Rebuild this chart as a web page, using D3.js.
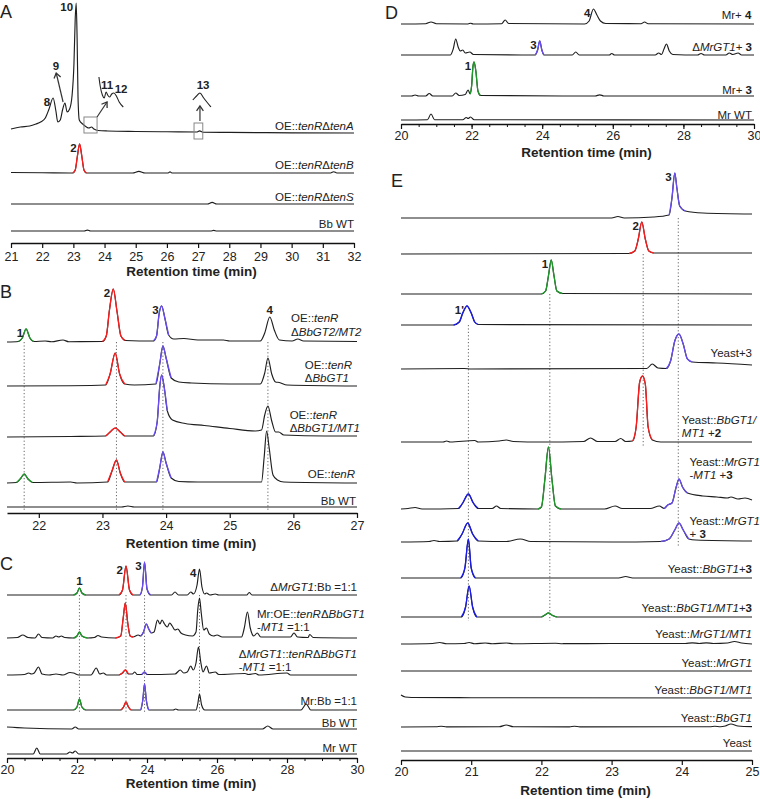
<!DOCTYPE html>
<html><head><meta charset="utf-8">
<script src="https://cdn.jsdelivr.net/npm/d3@7"></script>
<style>
body{margin:0;background:#fff}
svg{display:block}
text{font-family:"Liberation Sans",Arial,sans-serif;fill:#222}
</style></head>
<body><svg id="c" width="760" height="799"></svg>
<script>
// ================= DATA (time [min], signal [a.u.]) =================
// ---- Panel A ----
const A_tenA = [[21,4],[21.3,6],[21.6,7],[21.8,9],[21.95,11],[22.1,15],[22.22,24],[22.35,35],[22.44,22],[22.5,11],[22.58,13],[22.66,24],[22.73,30],[22.8,21],[22.88,24],[22.96,38],[23.02,70],[23.06,115],[23.09,130],[23.12,95],[23.15,35],[23.19,13],[23.3,9],[23.42,6],[23.5,5],[23.58,6],[23.66,4],[23.8,2.5],[24.1,2],[25,1.5],[26,1.2],[26.95,1],[27.05,2.2],[27.15,0.8],[28,0.6],[30,0.2],[32,0]];
const A_tenB = [[21,0.5],[22,0.3],[22.98,0],[23.06,3],[23.13,17],[23.2,29],[23.27,17],[23.34,3],[23.42,0],[24.9,0],[25.1,1.6],[25.3,0],[26.04,0],[26.1,1.2],[26.16,0],[31.25,0],[31.35,1.3],[31.45,0],[32,0]];
const A_tenS = [[21,0],[27.3,0],[27.45,1.6],[27.6,0],[32,0]];
const A_BbWT = [[21,0],[23.35,0],[23.45,0.9],[23.55,0],[27.4,0],[27.5,0.6],[27.6,0],[32,0]];
const A_traces = [A_tenA, A_tenB, A_tenS, A_BbWT];
const A_labels = [["OE::<i>tenR</i>Δ<i>tenA</i>"],["OE::<i>tenR</i>Δ<i>tenB</i>"],["OE::<i>tenR</i>Δ<i>tenS</i>"],["Bb WT"]];
const A_colored = [[],[[22.98,23.42,"2"]],[],[]];
const A_peakLabels = [[0,22.35,"8"],[0,23.09,"10"],[1,23.2,"2"]];
const A_inset1112 = [[23.82,56],[23.86,47],[23.93,38],[23.99,35],[24.05,41],[24.1,38],[24.16,36],[24.23,39],[24.3,40],[24.38,37],[24.47,31],[24.6,26]];
const A_inset13 = [[26.83,33],[26.95,37],[27.06,40],[27.18,35],[27.41,26]];
const A_arrows = [[22.67,31,22.45,60],[23.76,16,24.08,31],[27.06,12,27.06,27]];
const A_boxes = [[23.34,23.76,0,16],[26.87,27.15,-6,10]];
const A_notes = [[22.44,67,"9"],[24.08,48,"11"],[24.53,44,"12"],[27.16,48,"13"]];

// ---- Panel B ----
const B_GT2MT2 = [[21.5,0],[21.68,0.5],[21.74,4],[21.8,13],[21.86,4],[21.92,0.5],[22.1,1],[22.2,0.3],[22.38,2],[22.47,0.3],[23.0,0.5],[23.06,6],[23.11,32],[23.17,53],[23.23,30],[23.29,6],[23.36,1.5],[23.8,1],[23.85,6],[23.89,28],[23.93,36],[23.98,24],[24.04,7],[24.12,3],[24.28,3.5],[24.5,2],[24.9,2],[25.0,1],[25.48,1],[25.55,9],[25.63,25],[25.7,12],[25.78,2],[25.98,1],[26.07,3],[26.16,1],[27,0.5]];
const B_GT1 = [[21.5,0],[22.5,0.3],[23.05,1],[23.12,12],[23.2,33],[23.27,12],[23.35,2],[23.5,1],[23.84,2],[23.9,22],[23.95,40],[24.0,28],[24.08,8],[24.2,4],[24.4,3],[25.0,2],[25.48,2],[25.55,13],[25.6,28],[25.66,12],[25.72,4],[25.78,3.5],[25.9,1],[27,0]];
const B_GT1MT1 = [[21.5,0],[22.5,0.5],[23.05,1],[23.12,5],[23.2,9],[23.28,5],[23.35,1],[23.8,1],[23.86,15],[23.9,50],[23.93,62],[23.97,50],[24.02,26],[24.1,17],[24.3,13.5],[24.6,11.5],[25.0,8.5],[25.4,6],[25.5,7],[25.55,22],[25.6,31],[25.66,16],[25.72,5],[25.77,5],[25.85,2],[26.5,1],[27,1]];
const B_tenR = [[21.5,0],[21.65,0.5],[21.72,5],[21.77,9],[21.83,4],[21.9,0.5],[22.5,1],[22.6,0],[23.08,1],[23.15,12],[23.22,23],[23.28,10],[23.35,1],[23.85,1],[23.9,15],[23.95,31],[24.0,20],[24.08,5],[24.2,1.5],[24.5,1],[25.5,1],[25.54,25],[25.58,52],[25.62,35],[25.68,8],[25.75,3],[25.85,1],[27,0]];
const B_BbWT = [[21.5,0],[23.3,0],[23.4,1],[23.5,0],[27,0]];
const B_traces = [B_GT2MT2, B_GT1, B_GT1MT1, B_tenR, B_BbWT];
const B_labels = [["OE::<i>tenR</i>","Δ<i>BbGT2/MT2</i>"],["OE::<i>tenR</i>","Δ<i>BbGT1</i>"],["OE::<i>tenR</i>","Δ<i>BbGT1/MT1</i>"],["OE::<i>tenR</i>"],["Bb WT"]];
const B_colored = [[[21.68,21.92,"1"],[23.0,23.36,"2"],[23.8,24.04,"3"]],[[23.05,23.35,"2"],[23.84,24.08,"3"]],[[23.05,23.35,"2"],[23.8,24.02,"3"]],[[21.65,21.9,"1"],[23.08,23.35,"2"],[23.85,24.08,"3"]],[]];
const B_peakLabels = [[0,21.8,"1"],[0,23.17,"2"],[0,23.93,"3"],[0,25.63,"4"]];
const B_dots = [[21.77,0,4],[23.22,0,4],[23.95,0,4],[25.6,0,4]];

// ---- Panel C ----
const C_GT1Bb = [[20,0],[21.9,0],[22.0,2],[22.07,7],[22.14,2],[22.25,0],[23.2,0],[23.3,5],[23.4,29],[23.5,5],[23.6,0],[23.8,0],[23.87,8],[23.93,33],[24.0,6],[24.1,0],[24.7,0],[24.8,3],[24.9,0],[25.15,0],[25.25,3],[25.33,1],[25.43,10],[25.5,26],[25.57,8],[25.65,1],[25.7,2],[25.8,0],[25.95,1],[26.05,0],[26.85,0],[26.92,2.5],[27.0,0],[30,0]];
const C_MrOE = [[20,0],[20.3,0.5],[20.45,3],[20.6,0.5],[20.8,0],[20.9,4],[21.0,0.5],[21.3,0],[21.4,2],[21.48,1],[21.55,2],[21.65,0.5],[21.9,0],[22.0,2],[22.07,6],[22.14,2],[22.3,0],[22.5,0.5],[22.6,2.5],[22.7,1],[23.1,0],[23.25,2],[23.32,20],[23.38,35],[23.45,15],[23.52,2],[23.6,1],[23.75,3],[23.82,2],[23.9,6],[23.98,14],[24.05,9],[24.12,5],[24.2,6],[24.3,18],[24.37,14],[24.43,18],[24.5,14],[24.58,11],[24.65,15],[24.72,12],[24.8,8],[24.88,9],[24.97,5],[25.1,3],[25.3,2],[25.4,6],[25.45,28],[25.5,40],[25.55,25],[25.62,8],[25.7,10],[25.78,4],[25.9,2],[26.0,3],[26.15,1],[26.7,1],[26.78,10],[26.87,26],[26.95,10],[27.05,2],[27.15,5],[27.25,1],[28.1,1],[28.2,5],[28.3,1],[28.6,0.5],[28.65,3.5],[28.75,0.5],[30,0]];
const C_GT1tenR = [[20,0],[20.5,0.5],[20.62,2],[20.7,1],[20.78,2],[20.9,8],[21.0,1],[21.2,0],[21.4,1],[21.6,0],[21.8,2.5],[21.9,2],[22.05,0],[22.4,0],[22.55,7],[22.65,1],[22.75,2],[22.85,0],[23.2,0],[23.3,2],[23.38,5],[23.47,1],[23.58,1],[23.65,3],[23.72,0.5],[23.85,0.5],[23.93,3],[24.0,0.5],[24.8,1],[24.95,5],[25.05,2],[25.15,3],[25.25,9],[25.32,5],[25.4,12],[25.47,28],[25.54,12],[25.6,3],[25.7,9],[25.78,2],[25.95,3],[26.05,0.5],[26.8,1.5],[26.9,0.5],[27.1,1.5],[27.2,0],[28.0,2],[28.1,0],[30,0]];
const C_MrBb = [[20,0],[21.9,0],[22.0,3],[22.07,11],[22.14,3],[22.25,0],[23.25,0],[23.33,3],[23.4,8],[23.47,3],[23.55,0],[23.82,0],[23.88,10],[23.93,26],[23.98,10],[24.05,0],[24.75,0],[24.82,1],[24.9,0],[25.4,0],[25.45,6],[25.5,16],[25.56,5],[25.65,0],[28.4,0],[28.55,6],[28.68,0],[30,0]];
const C_BbWT = [[20,2],[20.5,1],[21.85,0],[21.95,2],[22.05,0],[27.3,0],[27.45,3],[27.6,0],[30,0]];
const C_MrWT = [[20,0],[20.75,0],[20.85,6],[20.95,0],[21.7,0],[21.8,2],[21.87,1],[21.95,3],[22.05,0],[30,0]];
const C_traces = [C_GT1Bb, C_MrOE, C_GT1tenR, C_MrBb, C_BbWT, C_MrWT];
const C_labels = [["Δ<i>MrGT1</i>:Bb =1:1"],["Mr:OE::<i>tenR</i>Δ<i>BbGT1</i>","-<i>MT1</i> =1:1"],["Δ<i>MrGT1</i>::<i>tenR</i>Δ<i>BbGT1</i>","-<i>MT1</i> =1:1"],["Mr:Bb =1:1"],["Bb  WT"],["Mr  WT"]];
const C_colored = [[[21.9,22.25,"1"],[23.2,23.6,"2"],[23.8,24.1,"3"]],[[21.9,22.3,"1"],[23.1,23.6,"2"],[23.82,24.12,"3"]],[[23.2,23.47,"2"],[23.85,24.0,"3"]],[[21.9,22.25,"1"],[23.25,23.55,"2"],[23.82,24.05,"3"]],[],[]];
const C_peakLabels = [[0,22.07,"1"],[0,23.4,"2"],[0,23.93,"3"],[0,25.5,"4"]];
const C_dots = [[22.07,0,3],[23.4,0,3],[23.93,0,3],[25.5,0,3]];

// ---- Panel D ----
const D_Mr4 = [[20,0],[20.7,0.3],[20.85,2],[21.0,0.3],[21.9,0],[21.97,0.8],[22.05,0],[22.85,0.3],[22.95,4],[23.05,0.5],[25.2,0],[25.33,3],[25.45,15],[25.55,9],[25.65,3],[25.8,0.5],[26.8,0.3],[26.9,2],[27.0,0.3],[30,0]];
const D_GT13 = [[20,0],[21.4,0],[21.48,6],[21.55,16],[21.62,8],[21.68,4],[21.75,5],[21.82,2],[21.95,3],[22.05,0.5],[23.8,0],[23.87,5],[23.93,14],[23.99,5],[24.05,0],[24.85,0],[24.95,3],[25.05,0],[25.9,0],[25.97,1.5],[26.05,0],[27.2,0],[27.3,2],[27.38,0.5],[27.45,6],[27.52,11],[27.6,4],[27.7,0.5],[28.4,0],[28.5,1.5],[28.6,0],[29.2,0],[29.3,2],[29.4,0.5],[29.55,2],[29.65,0],[30,0]];
const D_Mr3 = [[20,0],[20.3,0],[20.4,1],[20.5,0],[20.7,0],[20.8,2.5],[20.9,0],[21.45,0],[21.55,3],[21.65,0.5],[21.82,1.5],[21.9,6],[21.96,2],[22.0,10],[22.04,30],[22.07,34],[22.12,25],[22.18,5],[22.25,0.5],[25.5,0],[25.63,1.2],[25.75,0],[30,0]];
const D_MrWT = [[20,0],[20.75,0.3],[20.85,6],[20.95,0.3],[21.75,0.3],[21.85,2.5],[21.9,1.5],[21.97,3],[22.07,0.3],[30,0]];
const D_traces = [D_Mr4, D_GT13, D_Mr3, D_MrWT];
const D_labels = [["Mr+ <b>4</b>"],["Δ<i>MrGT1</i>+ <b>3</b>"],["Mr+ <b>3</b>"],["Mr  WT"]];
const D_colored = [[],[[23.8,24.05,"3"]],[[21.96,22.25,"1"]],[]];
const D_peakLabels = [[0,25.45,"4"],[1,23.93,"3"],[2,22.07,"1"]];

// ---- Panel E ----
const E_std3 = [[20,0],[23.0,0],[23.09,1.5],[23.18,0],[23.6,1],[23.82,3],[23.86,20],[23.9,45],[23.93,30],[23.97,12],[24.05,7],[24.3,5],[25,4]];
const E_std2 = [[20,0],[23.25,0.5],[23.33,3],[23.38,15],[23.43,32],[23.48,15],[23.53,3],[23.6,1],[25,1]];
const E_std1 = [[20,0],[22.0,0],[22.06,3],[22.1,18],[22.14,34],[22.18,18],[22.22,3],[22.3,0.5],[25,0]];
const E_std1p = [[20,0],[20.75,0],[20.83,3],[20.88,12],[20.94,19],[21.0,12],[21.05,3],[21.1,0.5],[25,0]];
const E_Y3 = [[20,0],[20.9,0.5],[21.0,0],[23.5,0.5],[23.58,5],[23.66,1],[23.78,0.5],[23.84,8],[23.9,28],[23.96,35],[24.02,25],[24.08,10],[24.15,7],[24.5,6],[25,4]];
const E_BbMT2 = [[20,0],[20.6,0],[20.65,1],[20.7,0],[21.05,1.5],[21.1,0],[21.4,1],[21.5,2],[21.6,0.5],[22.0,0],[22.6,0.5],[22.7,4],[22.8,0.5],[23.05,0.5],[23.13,3.5],[23.2,0.5],[23.3,1],[23.35,15],[23.4,60],[23.44,66],[23.48,58],[23.52,15],[23.58,2],[23.7,0],[25,0]];
const E_MrMT3 = [[20,0],[20.1,0.5],[20.2,1.5],[20.3,0],[20.82,0.5],[20.88,6],[20.96,15],[21.03,6],[21.1,0.5],[21.3,0.5],[21.36,3],[21.42,0.5],[21.95,0],[22.0,2],[22.05,30],[22.1,62],[22.15,30],[22.2,3],[22.28,0],[22.9,0],[23.05,3],[23.15,0.5],[23.55,0.5],[23.68,3],[23.75,0.5],[23.8,4],[23.86,6],[23.92,22],[23.96,30],[24.01,22],[24.08,16],[24.3,13],[24.5,12],[24.65,11],[24.7,12],[24.8,10],[24.9,11],[25,9]];
const E_Mr3 = [[20,0],[20.4,0.5],[20.47,1.5],[20.55,0.5],[20.8,1],[20.87,8],[20.95,19],[21.02,8],[21.1,1],[21.5,0.5],[21.7,3],[21.85,0.5],[23.0,0],[23.7,0.5],[23.82,3],[23.9,12],[23.96,19],[24.02,12],[24.1,3],[24.2,2],[25,1]];
const E_Bb3 = [[20,0],[20.85,0],[20.91,10],[20.96,39],[21.0,10],[21.06,0],[23.1,0],[23.2,1.5],[23.3,0],[25,0]];
const E_BbMT3 = [[20,0],[20.86,0],[20.92,10],[20.97,31],[21.02,10],[21.08,0],[22.0,0],[22.05,2],[22.1,4],[22.16,1.5],[22.22,0],[25,0]];
const E_MrMT = [[20,0],[20.45,0.5],[20.55,1.5],[20.65,0.3],[20.9,0.5],[20.97,1.5],[21.05,0.3],[21.2,1],[21.3,0.3],[21.5,1],[21.6,0.3],[22.2,0.8],[22.3,0.3],[23,0.5],[24.05,0.5],[24.15,1.2],[24.25,0.5],[24.35,1.2],[24.45,0.5],[24.65,1],[24.75,2.5],[24.85,1],[25,0]];
const E_Mr = [[20,0],[25,0]];
const E_BbMT = [[20,3],[20.06,1],[20.15,0.5],[21,0.3],[25,0]];
const E_Bb = [[20,0],[20.5,0.3],[20.57,0.8],[20.65,0.2],[21.4,0.3],[21.5,2],[21.6,0.3],[22.4,0.2],[22.47,0.8],[22.55,0.2],[24.4,0.3],[24.47,0.8],[24.55,0.3],[24.62,1],[24.7,3],[24.8,1],[25,0.3]];
const E_Yeast = [[20,0],[25,0]];
const E_traces = [E_std3,E_std2,E_std1,E_std1p,E_Y3,E_BbMT2,E_MrMT3,E_Mr3,E_Bb3,E_BbMT3,E_MrMT,E_Mr,E_BbMT,E_Bb,E_Yeast];
const E_labels = [[],[],[],[],["Yeast+3"],["Yeast::<i>BbGT1/</i>","<i>MT1</i> +<b>2</b>"],["Yeast::<i>MrGT1</i>"," -<i>MT1</i> +<b>3</b>"],["Yeast::<i>MrGT1</i>","  + <b>3</b>"],["Yeast::<i>BbGT1</i>+<b>3</b>"],["Yeast::<i>BbGT1/MT1</i>+<b>3</b>"],["Yeast::<i>MrGT1/MT1</i>"],["Yeast::<i>MrGT1</i>"],["Yeast::<i>BbGT1/MT1</i>"],["Yeast::<i>BbGT1</i>"],["Yeast"]];
const E_colored = [[[23.82,24.05,"3"]],[[23.25,23.6,"2"]],[[22.0,22.3,"1"]],[[20.75,21.1,"1p"]],[[23.78,24.15,"3"]],[[23.3,23.58,"2"]],[[20.82,21.1,"1p"],[21.95,22.28,"1"],[23.75,24.08,"3"]],[[20.8,21.1,"1p"],[23.7,24.1,"3"]],[[20.85,21.06,"1p"]],[[20.86,21.08,"1p"],[22.0,22.22,"1"]],[],[],[],[],[]];
const E_peakLabels = [[0,23.9,"3"],[1,23.43,"2"],[2,22.14,"1"],[3,20.94,"1'"]];
const E_dots = [[20.96,3,9],[22.12,2,9],[23.45,1,5],[23.95,0,7]];

const xTitle = "Retention time (min)";

// ================= STYLE / LAYOUT =================
const COL = {"1":"#1f9a2a","2":"#ff1c1c","3":"#6a4cf2","1p":"#1a1af0"};
const svg = d3.select("#c");

const panels = [
 {id:"A", dom:[21,32], r:[11,354], base:[133,173,204,231], axisY:243, ticks:d3.range(21,33), minor:[], tickPad:4, titleDy:33,
  letter:[0,18], traces:A_traces, labels:A_labels, colored:A_colored, peaks:A_peakLabels, dots:[], right:[354,354,354,354], lift:[7,8,7,7]},
 {id:"B", dom:[21.5,27], r:[7,357], base:[342,386,437,483,507], axisY:513, ticks:d3.range(22,28), minor:[], tickPad:3, titleDy:35,
  letter:[0,298], traces:B_traces, labels:B_labels, colored:B_colored, peaks:B_peakLabels, dots:B_dots, right:[362,352,360,355,356], lift:[10,8,8,9,6], topPeaks:["4"]},
 {id:"C", dom:[20,30], r:[7,357], base:[595,638,675,710,729,754], axisY:758, ticks:d3.range(20,31,2), minor:d3.range(20,30.01,0.5), tickPad:2, titleDy:30,
  letter:[0,570], traces:C_traces, labels:C_labels, colored:C_colored, peaks:C_peakLabels, dots:C_dots, right:[357,365,357,357,357,357], lift:[8,11,8,9,6,6], topPeaks:["1"]},
 {id:"D", dom:[20,30], r:[401,754], base:[24,55,96,120], axisY:124, ticks:d3.range(20,31,2), minor:d3.range(20,30.01,0.5), tickPad:2, titleDy:33,
  letter:[385,19], traces:D_traces, labels:D_labels, colored:D_colored, peaks:D_peakLabels, dots:[], right:[752,752,752,752], lift:[9,8,6,5]},
 {id:"E", dom:[20,25], r:[401,752], base:[218,254,294,325,369,442,509,542,578,617,644,671,698,727,751], axisY:760, ticks:d3.range(20,26), minor:[], tickPad:2, titleDy:35,
  letter:[391,187], traces:E_traces, labels:E_labels, colored:E_colored, peaks:E_peakLabels, dots:E_dots,
  right:[752,752,752,752,752,758,760,760,752,752,752,752,752,752,752], lift:[0,0,0,0,12,9,25,7,9,9,10,8,8,9,8]}
];

function rich(textSel, s){
  const re=/<(\/?)(i|b)>/g; let last=0, it=false, bd=false, m;
  const add=(str)=>{ if(!str) return; textSel.append("tspan").attr("font-style",it?"italic":null).attr("font-weight",bd?"bold":null).text(str); };
  while((m=re.exec(s))){ add(s.slice(last,m.index)); const on=m[1]!=="/"; if(m[2]==="i") it=on; else bd=on; last=re.lastIndex; }
  add(s.slice(last));
}

panels.forEach(P=>{
  const g = svg.append("g");
  const x = d3.scaleLinear().domain(P.dom).range(P.r);
  const yv = d3.scaleLinear().domain([0,100]).range([0,-100]);
  const mk = base => d3.line().x(d=>x(d[0])).y(d=>base+yv(d[1])).curve(d3.curveMonotoneX);

  g.append("text").attr("x",P.letter[0]).attr("y",P.letter[1]).attr("font-size",18).text(P.id);

  P.dots.forEach(([t,a,b])=>{
    g.append("line").attr("x1",x(t)).attr("x2",x(t)).attr("y1",P.base[a]).attr("y2",P.base[b]+4)
     .attr("stroke","#555").attr("stroke-width",0.9).attr("stroke-dasharray","1.2,2.2");
  });

  P.traces.forEach((tr,i)=>{
    const line = mk(P.base[i]);
    g.append("path").attr("d",line(tr)).attr("fill","none").attr("stroke","#1e1e1e").attr("stroke-width",1.15).attr("stroke-linejoin","round");
    (P.colored[i]||[]).forEach(([t0,t1,c])=>{
      const seg = tr.filter(d=>d[0]>=t0-1e-9 && d[0]<=t1+1e-9);
      g.append("path").attr("d",line(seg)).attr("fill","none").attr("stroke",COL[c]).attr("stroke-width",1.3);
    });
    const L = P.labels[i]||[];
    if(L.length){
      const lg = g.append("g");
      const n=L.length; const lastY = P.base[i] + yv(tr[tr.length-1][1]) - P.lift[i];
      L.forEach((s,k)=>{
        const t = lg.append("text").attr("x",0).attr("y",lastY-(n-1-k)*13.5).attr("dy","0.35em").attr("font-size",11.5);
        rich(t,s);
      });
      const w = lg.node().getBBox().width;
      lg.attr("transform",`translate(${P.right[i]-w},0)`);
    }
  });

  P.peaks.forEach(([ti,t,s])=>{
    const tr=P.traces[ti];
    const near = tr.filter(d=>Math.abs(d[0]-t)<0.06);
    const vmax = d3.max(near,d=>d[1]);
    const ax=x(t), ay=P.base[ti]+yv(vmax);
    const top = (P.topPeaks||[]).includes(s);
    g.append("text").attr("x", top?ax:ax-3).attr("y", top?ay-7:ay+4).attr("dy","0.35em")
     .attr("text-anchor", top?"middle":"end").attr("font-size",11.5).attr("font-weight","bold").text(s);
  });

  const axis = d3.axisBottom(x).tickValues(P.ticks).tickSize(5).tickSizeOuter(0).tickPadding(P.tickPad).tickFormat(d3.format("d"));
  const ag = g.append("g").attr("transform",`translate(0,${P.axisY})`).call(axis);
  ag.select(".domain").attr("stroke","#111").attr("stroke-width",1.5);
  ag.selectAll(".tick line").attr("stroke","#111").attr("stroke-width",1.2);
  ag.selectAll(".tick text").attr("font-size",12.5).attr("fill","#222").attr("font-family","'Liberation Sans',Arial,sans-serif");
  if(P.minor.length){
    const m = d3.axisBottom(x).tickValues(P.minor).tickSize(3).tickSizeOuter(0).tickFormat("");
    const mg = g.append("g").attr("transform",`translate(0,${P.axisY})`).call(m);
    mg.select(".domain").remove();
    mg.selectAll(".tick line").attr("stroke","#111").attr("stroke-width",1);
  }
  g.append("text").attr("x",(P.r[0]+P.r[1])/2+9).attr("y",P.axisY+P.titleDy).attr("text-anchor","middle")
   .attr("font-size",13.5).attr("font-weight","bold").text(xTitle);

  if(P.id==="A"){
    const b0=P.base[0];
    A_boxes.forEach(([t0,t1,v0,v1])=>{
      g.append("rect").attr("x",x(t0)).attr("y",b0+yv(v1)).attr("width",x(t1)-x(t0)).attr("height",yv(v0)-yv(v1))
       .attr("fill","none").attr("stroke","#888").attr("stroke-width",1);
    });
    [A_inset1112,A_inset13].forEach(c=>g.append("path").attr("d",mk(b0)(c)).attr("fill","none").attr("stroke","#222").attr("stroke-width",1.1));
    A_arrows.forEach(([t0,v0,t1,v1])=>{
      const x0=x(t0),y0=b0+yv(v0),x1=x(t1),y1=b0+yv(v1);
      g.append("line").attr("x1",x0).attr("y1",y0).attr("x2",x1).attr("y2",y1).attr("stroke","#333").attr("stroke-width",1.2);
      const a=Math.atan2(y1-y0,x1-x0), L=6, s=0.6;
      g.append("path").attr("d",`M${x1-L*Math.cos(a-s)},${y1-L*Math.sin(a-s)}L${x1},${y1}L${x1-L*Math.cos(a+s)},${y1-L*Math.sin(a+s)}`)
       .attr("fill","none").attr("stroke","#333").attr("stroke-width",1.3);
    });
    A_notes.forEach(([t,v,s])=>g.append("text").attr("x",x(t)).attr("y",b0+yv(v)).attr("dy","0.35em").attr("text-anchor","middle")
      .attr("font-size",11.5).attr("font-weight","bold").text(s));
  }
});
</script></body></html>
